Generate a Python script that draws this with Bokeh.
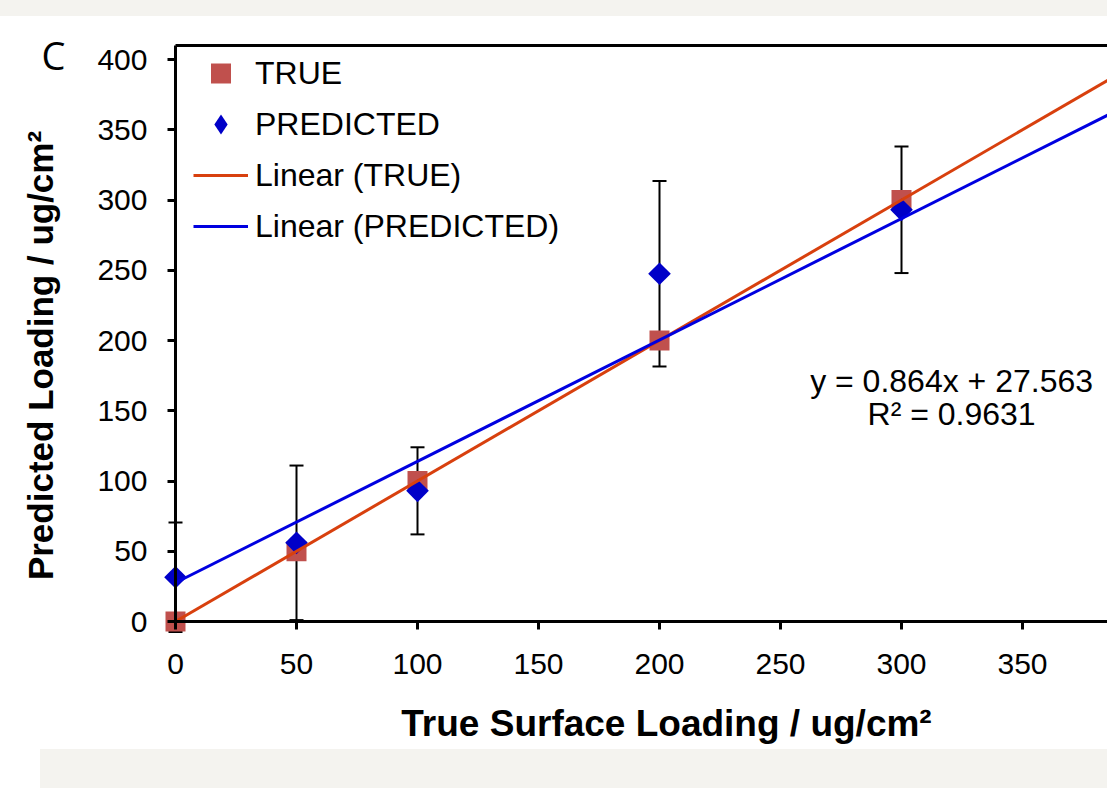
import numpy as np
from bokeh.plotting import figure
from bokeh.models import (Range1d, FixedTicker, LinearAxis, Legend, LegendItem,
                          Whisker, TeeHead, ColumnDataSource, Label, Div)
from bokeh.layouts import column, row
from bokeh.embed import file_html
from bokeh.resources import INLINE

# ---- data ----
x_vals = [0, 50, 100, 200, 300]
true_vals = [0, 50, 100, 200, 300]
pred_vals = [31.5, 56, 93, 247.5, 293]
pred_err = [39, 55, 31, 66, 45]
x_ticks = [0, 50, 100, 150, 200, 250, 300, 350]
y_ticks = [0, 50, 100, 150, 200, 250, 300, 350, 400]
true_fit = (1.0, 0.0)          # slope, intercept
pred_fit = (0.864, 27.563)
eq_text = "y = 0.864x + 27.563"
r2_text = "R\u00b2 = 0.9631"
x_title = "True Surface Loading / ug/cm\u00b2"
y_title = "Predicted Loading / ug/cm\u00b2"
panel_letter = "C"

FONT = "Liberation Sans"
W, H = 1107, 733
PX_X, PX_Y = 2.42, 1.405          # pixels per data unit
ORIGIN_X, ORIGIN_Y = 175, 605      # pixel position of (0, 0) inside the canvas
X_START, X_END = -ORIGIN_X / PX_X, (W - ORIGIN_X) / PX_X
Y_START, Y_END = -(H - ORIGIN_Y) / PX_Y, ORIGIN_Y / PX_Y
Y_TOP = 410                        # top border of the plot box

p = figure(width=W, height=H,
           x_range=Range1d(X_START, X_END), y_range=Range1d(Y_START, Y_END),
           output_backend="svg", toolbar_location=None,
           x_axis_location=None, y_axis_location=None,
           min_border_left=0, min_border_right=0,
           min_border_top=0, min_border_bottom=0)
p.outline_line_color = None
p.grid.visible = False
p.background_fill_color = "white"
p.border_fill_color = "white"


def style_axis(ax):
    ax.axis_line_width = 3
    ax.axis_line_color = "black"
    ax.major_tick_line_width = 3
    ax.major_tick_line_color = "black"
    ax.major_tick_out = 8
    ax.major_tick_in = 0
    ax.minor_tick_line_color = None
    ax.major_label_text_font = FONT
    ax.major_label_text_font_size = "30px"
    ax.major_label_text_color = "black"
    ax.major_label_standoff = 20


def title_axis(text, bounds, standoff, size):
    ax = LinearAxis(ticker=FixedTicker(ticks=[]), fixed_location=0,
                    bounds=bounds, axis_label=text,
                    axis_line_color=None, major_tick_line_color=None,
                    minor_tick_line_color=None, major_tick_out=0,
                    major_tick_in=0, major_label_standoff=0,
                    axis_label_standoff=standoff)
    ax.axis_label_text_font = FONT
    ax.axis_label_text_font_style = "bold"
    ax.axis_label_text_font_size = size
    ax.axis_label_text_color = "black"
    return ax


xaxis = LinearAxis(ticker=FixedTicker(ticks=x_ticks), fixed_location=0,
                   bounds=(0, X_END + 10))
style_axis(xaxis)
xaxis.major_label_standoff = 24
p.add_layout(xaxis, "below")

yaxis = LinearAxis(ticker=FixedTicker(ticks=y_ticks), fixed_location=0,
                   bounds=(0, Y_TOP))
style_axis(yaxis)
p.add_layout(yaxis, "left")

p.add_layout(title_axis(x_title, (20.7, X_END), 81, "37px"), "below")
p.add_layout(title_axis(y_title, (0, 378.6), 116, "35px"), "left")

top_axis = LinearAxis(ticker=FixedTicker(ticks=[]), fixed_location=Y_TOP,
                      axis_line_width=3, axis_line_color="black",
                      major_tick_line_color=None, minor_tick_line_color=None,
                      bounds=(0, X_END + 10))
p.add_layout(top_axis, "above")

# error bars
err_src = ColumnDataSource(dict(
    x=x_vals,
    upper=[v + e for v, e in zip(pred_vals, pred_err)],
    lower=[v - e for v, e in zip(pred_vals, pred_err)],
))
whisk = Whisker(base="x", upper="upper", lower="lower", source=err_src,
                dimension="height", line_width=2, line_color="black",
                upper_head=TeeHead(size=14, line_width=2, line_color="black"),
                lower_head=TeeHead(size=14, line_width=2, line_color="black"),
                level="underlay")
p.add_layout(whisk)

# markers
r_true = p.scatter(x_vals, true_vals, marker="square", size=20,
                   fill_color="#c0504d", line_color=None)
r_pred = p.scatter(x_vals, pred_vals, marker="square", angle=np.pi / 4,
                   size=16, fill_color="#0000c8", line_color=None)
# diamond used only for the legend swatch
r_pred_key = p.scatter(x_vals, pred_vals, marker="diamond", size=20,
                       fill_color="#0000c8", line_color=None, visible=False)

# trend lines
fit_x = np.array([0.0, X_END + 10])
r_lt = p.line(fit_x, true_fit[0] * fit_x + true_fit[1], line_width=3,
              line_color="#d8400e")
r_lp = p.line(fit_x, pred_fit[0] * fit_x + pred_fit[1], line_width=3,
              line_color="#0000e0")

legend = Legend(items=[
    LegendItem(label="TRUE", renderers=[r_true]),
    LegendItem(label="PREDICTED", renderers=[r_pred_key]),
    LegendItem(label="Linear (TRUE)", renderers=[r_lt]),
    LegendItem(label="Linear (PREDICTED)", renderers=[r_lp]),
], location=(193, 498), glyph_width=55, glyph_height=50, label_height=50,
    spacing=1, padding=0, margin=0, label_standoff=7,
    label_text_font=FONT, label_text_font_size="32px",
    label_text_color="black", border_line_color=None,
    background_fill_alpha=0, inactive_fill_alpha=0)
p.add_layout(legend)

p.add_layout(Label(x=320.7, y=171, text=eq_text, text_align="center",
                   text_baseline="middle", text_font=FONT,
                   text_font_size="32px", text_color="black"))
p.add_layout(Label(x=320.7, y=148, text=r2_text, text_align="center",
                   text_baseline="middle", text_font=FONT,
                   text_font_size="32px", text_color="black"))
p.add_layout(Label(x=-50.4, y=403.5, text=panel_letter, text_align="center",
                   text_baseline="middle", text_font="Open Sans",
                   text_font_size="38px", text_color="black"))

BAND = "#f4f3ef"
top_band = Div(text="", width=1107, height=16, margin=0,
               styles={"background-color": BAND})
bot_left = Div(text="", width=40, height=39, margin=0,
               styles={"background-color": "white"})
bot_band = Div(text="", width=1067, height=39, margin=0,
               styles={"background-color": BAND})
layout = column(top_band, p, row(bot_left, bot_band, spacing=0), spacing=0)

open("out.html", "w").write(file_html(layout, INLINE))
